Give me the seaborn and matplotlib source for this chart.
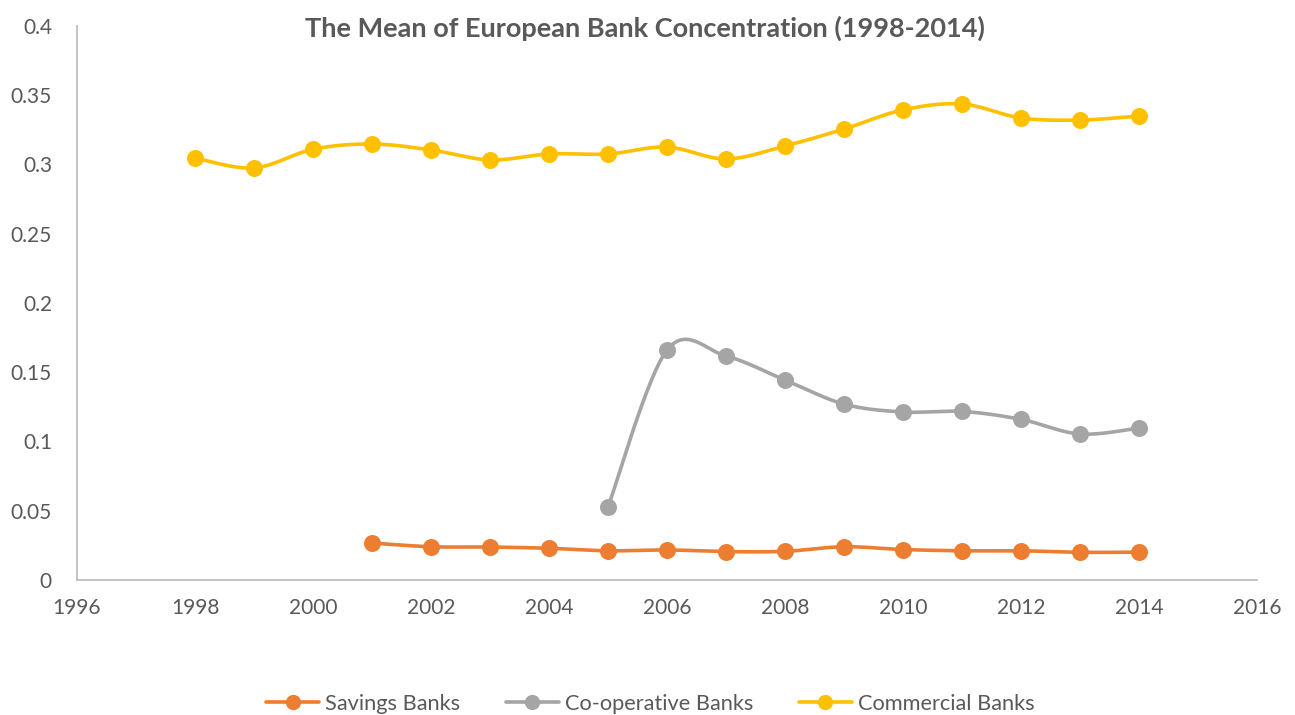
import numpy as np
import pandas as pd
import matplotlib
matplotlib.use("Agg")
import matplotlib.pyplot as plt
from matplotlib.lines import Line2D
import seaborn as sns

# Mean bank concentration by bank type, 1998-2014
years_commercial = [1998, 1999, 2000, 2001, 2002, 2003, 2004, 2005, 2006,
                    2007, 2008, 2009, 2010, 2011, 2012, 2013, 2014]
commercial = [0.3047, 0.2975, 0.3110, 0.3148, 0.3105, 0.3033, 0.3076, 0.3076,
              0.3126, 0.3040, 0.3134, 0.3256, 0.3394, 0.3437, 0.3336, 0.3321, 0.3350]

years_coop = [2005, 2006, 2007, 2008, 2009, 2010, 2011, 2012, 2013, 2014]
cooperative = [0.0527, 0.1660, 0.1617, 0.1444, 0.1270, 0.1213, 0.1217, 0.1160,
               0.1054, 0.1097]

years_savings = [2001, 2002, 2003, 2004, 2005, 2006, 2007, 2008, 2009, 2010,
                 2011, 2012, 2013, 2014]
savings = [0.0267, 0.0240, 0.0238, 0.0229, 0.0211, 0.0217, 0.0205, 0.0207,
           0.0240, 0.0220, 0.0211, 0.0211, 0.0200, 0.0201]

series_names = ["Savings Banks", "Co-operative Banks", "Commercial Banks"]
colors = ["#ED7D31", "#A5A5A5", "#FFC000"]

sns.set_style("white")
plt.rcParams["font.family"] = ["Lato", "DejaVu Sans"]
text_color = "#595959"


def smooth_curve(x, y, steps=30):
    """Catmull-Rom spline through the points (Bezier form)."""
    x = np.asarray(x, float)
    y = np.asarray(y, float)
    pts = np.column_stack([x, y])
    n = len(pts)
    out = []
    for i in range(n - 1):
        p0 = pts[i - 1] if i > 0 else pts[i]
        p1 = pts[i]
        p2 = pts[i + 1]
        p3 = pts[i + 2] if i + 2 < n else pts[i + 1]
        c1 = p1 + (p2 - p0) / 6.0
        c2 = p2 - (p3 - p1) / 6.0
        t = np.linspace(0, 1, steps)[:, None]
        seg = ((1 - t) ** 3) * p1 + 3 * ((1 - t) ** 2) * t * c1 \
            + 3 * (1 - t) * t ** 2 * c2 + t ** 3 * p2
        out.append(seg if i == 0 else seg[1:])
    seg = np.vstack(out)
    return seg[:, 0], seg[:, 1]


fig = plt.figure(figsize=(12.95, 7.15), dpi=100)
ax = fig.add_axes([77 / 1295, 1 - 580 / 715, (1257 - 77) / 1295, (580 - 26) / 715])

data = [(years_savings, savings), (years_coop, cooperative),
        (years_commercial, commercial)]
for (xs, ys), name, col in zip(data, series_names, colors):
    sx, sy = smooth_curve(xs, ys)
    ax.plot(sx, sy, color=col, lw=2.6, solid_capstyle="round", zorder=2)
    df = pd.DataFrame({"year": xs, "value": ys})
    sns.scatterplot(data=df, x="year", y="value", ax=ax, color=col, s=150,
                    edgecolor=col, linewidth=0, zorder=3, legend=False)

ax.set_xlim(1996, 2016)
ax.set_ylim(0, 0.4)
ax.set_xticks(np.arange(1996, 2017, 2))
ax.set_yticks([0, 0.05, 0.1, 0.15, 0.2, 0.25, 0.3, 0.35, 0.4])
ax.set_yticklabels(["0", "0.05", "0.1", "0.15", "0.2", "0.25", "0.3", "0.35", "0.4"])
ax.set_xlabel("")
ax.set_ylabel("")
ax.tick_params(axis="both", length=0, labelsize=15, colors=text_color)
ax.tick_params(axis="x", pad=13)
ax.tick_params(axis="y", pad=18)

for side in ["top", "right"]:
    ax.spines[side].set_visible(False)
for side in ["left", "bottom"]:
    ax.spines[side].set_color("#BFBFBF")
    ax.spines[side].set_linewidth(1.3)

fig.text(0.498, 1 - 28 / 715, "The Mean of European Bank Concentration (1998-2014)",
         ha="center", va="center", fontsize=19.5, fontweight="bold", color=text_color)

handles = [Line2D([0], [0], color=c, lw=2.6, marker="o", markersize=11,
                  markeredgewidth=0) for c in colors]
leg = fig.legend(handles, series_names, loc="center", ncol=3,
                 bbox_to_anchor=(0.502, 1 - 704 / 715), frameon=False,
                 fontsize=15.7, handlelength=2.45, handletextpad=0.25,
                 columnspacing=2.1)
for t in leg.get_texts():
    t.set_color(text_color)

fig.savefig("out.png", dpi=100)
